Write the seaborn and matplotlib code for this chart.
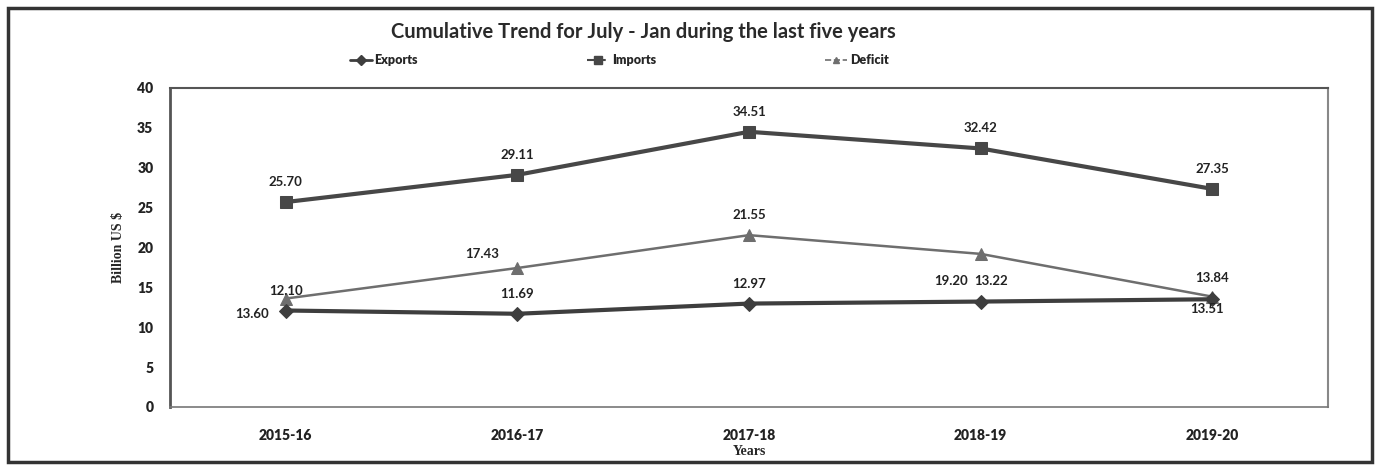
import pandas as pd
import matplotlib.pyplot as plt
import seaborn as sns
from matplotlib.lines import Line2D
from matplotlib.patches import Rectangle

years = ['2015-16', '2016-17', '2017-18', '2018-19', '2019-20']
exports = [12.10, 11.69, 12.97, 13.22, 13.51]
imports = [25.70, 29.11, 34.51, 32.42, 27.35]
deficit = [13.60, 17.43, 21.55, 19.20, 13.84]

df = pd.DataFrame({'Year': years * 3,
                   'Value': exports + imports + deficit,
                   'Series': ['Exports'] * 5 + ['Imports'] * 5 + ['Deficit'] * 5})

sns.set_style('white')
plt.rcParams['font.family'] = ['Lato', 'DejaVu Sans']

fig = plt.figure(figsize=(13.8, 4.7), dpi=100)
ax = fig.add_axes([170 / 1380, 1 - 407 / 470, (1328 - 170) / 1380, (407 - 88) / 470])

styles = {
    'Imports': dict(color='#474747', marker='s', ms=9, lw=3.0),
    'Deficit': dict(color='#6e6e6e', marker='^', ms=8, lw=1.8),
    'Exports': dict(color='#3e3e3e', marker='D', ms=7, lw=3.0),
}
for name, st in styles.items():
    sub = df[df['Series'] == name]
    sns.lineplot(data=sub, x='Year', y='Value', ax=ax, color=st['color'],
                 marker=st['marker'], markersize=st['ms'], linewidth=st['lw'],
                 markeredgecolor=st['color'], legend=False)

# data labels, offsets in pixels as placed in the original chart
offsets = {
    'Imports': [(0, 20), (0, 20), (0, 20), (0, 20), (0, 20)],
    'Deficit': [(-34, -15), (-35, 14), (0, 20), (-30, -27), (0, 19)],
    'Exports': [(0, 20), (0, 20), (0, 20), (10, 21), (-5, -10)],
}
values = {'Exports': exports, 'Imports': imports, 'Deficit': deficit}
for name, vals in values.items():
    for i, v in enumerate(vals):
        dx, dy = offsets[name][i]
        ax.annotate(f'{v:.2f}', (i, v), xytext=(dx, dy), textcoords='offset pixels',
                    ha='center', va='center', fontsize=9.5, fontweight='bold',
                    color='#222222')

ax.set_xlim(-0.5, 4.5)
ax.set_ylim(0, 40)
ax.set_yticks(range(0, 41, 5))
ax.tick_params(axis='both', length=0, labelsize=10, colors='#222222')
for lab in ax.get_xticklabels() + ax.get_yticklabels():
    lab.set_fontweight('heavy')
ax.tick_params(axis='x', pad=16)
ax.tick_params(axis='y', pad=12)

ax.set_xlabel('Years', family='Liberation Serif', fontweight='bold', fontsize=10, labelpad=2)
ax.set_ylabel('Billion US $', family='Liberation Serif', fontweight='bold', fontsize=10, labelpad=9)

ax.spines['left'].set_color('#555555')
ax.spines['left'].set_linewidth(2)
ax.spines['top'].set_color('#555555')
ax.spines['top'].set_linewidth(1.5)
ax.spines['right'].set_color('#888888')
ax.spines['right'].set_linewidth(1.5)
ax.spines['bottom'].set_color('#777777')
ax.spines['bottom'].set_linestyle((0, (2, 1)))
ax.spines['bottom'].set_linewidth(1.2)

fig.text(0.466, 1 - 32 / 470, 'Cumulative Trend for July - Jan during the last five years',
         ha='center', va='center', fontsize=14.5, fontweight='bold', color='#2a2a2a')

handles = [
    Line2D([], [], color='#3e3e3e', marker='D', ms=5, lw=2),
    Line2D([], [], color='#474747', marker='s', ms=6, lw=1.5, ls='--'),
    Line2D([], [], color='#6e6e6e', marker='^', ms=5, lw=1.2, ls='--'),
]
fig.legend(handles, ['Exports', 'Imports', 'Deficit'], loc='center',
           bbox_to_anchor=(619 / 1380, 1 - 60 / 470), ncol=3, frameon=False,
           columnspacing=13.5, handlelength=1.8, handletextpad=0.2,
           prop={'weight': 'heavy', 'size': 9})

fig.patches.append(Rectangle((8 / 1380, 8 / 470), 1364 / 1380, 454 / 470,
                             transform=fig.transFigure, fill=False,
                             edgecolor='#333333', linewidth=2.5))

fig.savefig('out.png', dpi=100)
